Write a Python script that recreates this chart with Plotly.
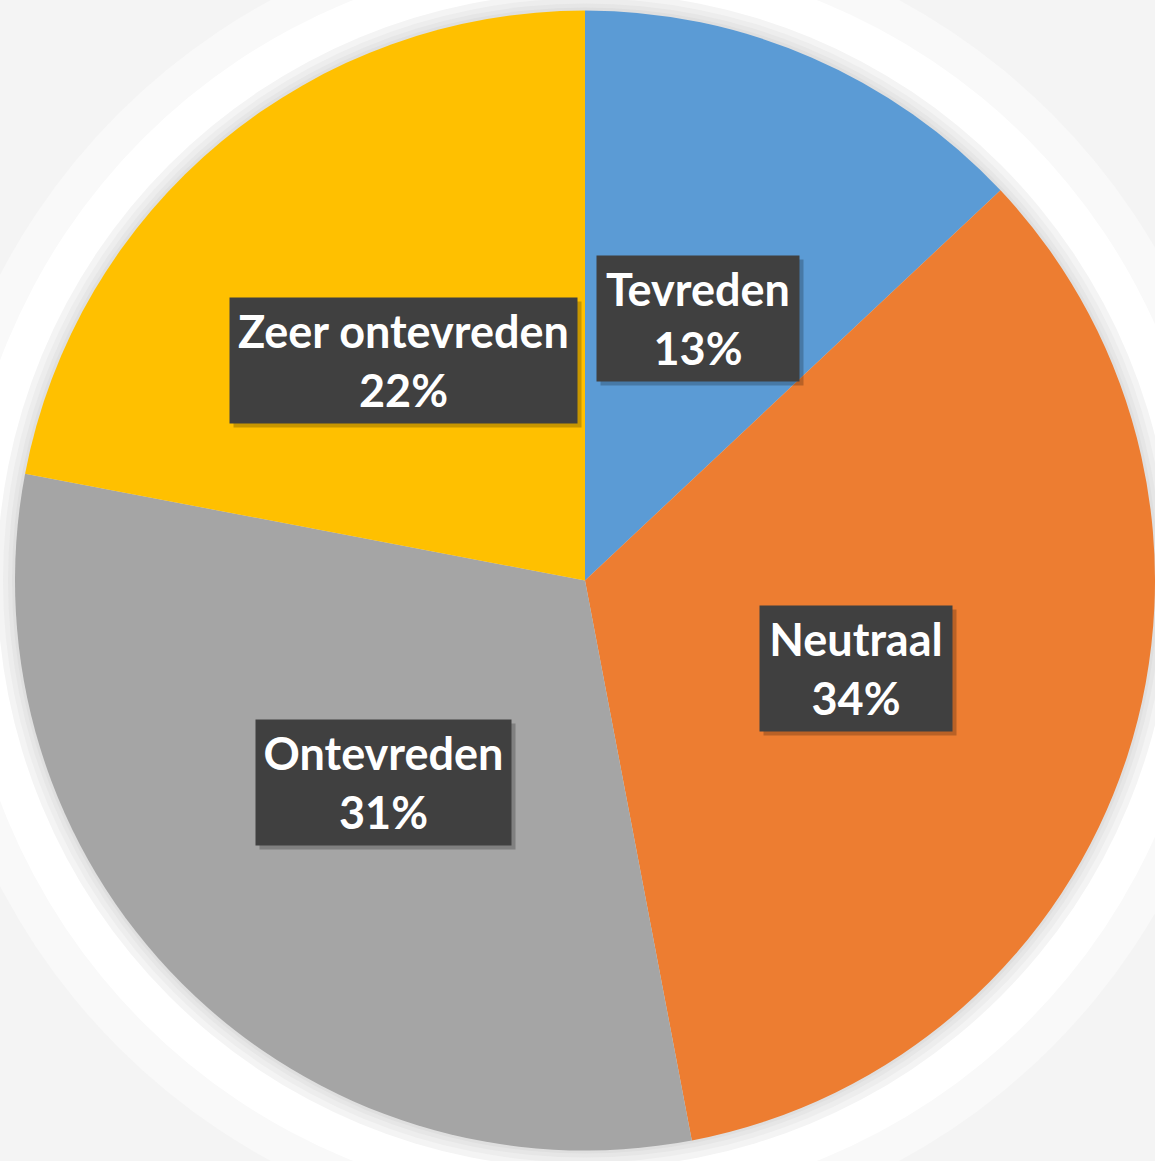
import numpy as np
import plotly.graph_objects as go

# data
labels = ["Tevreden", "Neutraal", "Ontevreden", "Zeer ontevreden"]
values = [13, 34, 31, 22]
colors = ["#5B9BD5", "#ED7D31", "#A5A5A5", "#FFC000"]

# label box sizes (px, text area without padding)
box_w = {"Tevreden": 192, "Neutraal": 182, "Ontevreden": 245, "Zeer ontevreden": 337}
box_h = 115

W, H = 1155, 1161
dom_x = [15 / W, 1.0]
dom_y = [0.0, 1.0]

# pie geometry in pixels (plotly fits the circle inside the domain)
dw = (dom_x[1] - dom_x[0]) * W
dh = (dom_y[1] - dom_y[0]) * H
r = min(dw, dh) / 2
cx = dom_x[0] * W + dw / 2
cy = H - (dom_y[0] * H + dh / 2)

fig = go.Figure()
fig.add_trace(go.Pie(
    labels=labels, values=values, sort=False, direction="clockwise", rotation=0,
    marker=dict(colors=colors, line=dict(width=0)),
    textinfo="none", hoverinfo="label+percent", showlegend=False,
    domain=dict(x=dom_x, y=dom_y),
))

# labels in dark boxes, halfway out along the mid-angle of each slice
total = sum(values)
cum = np.cumsum([0] + values)
annotations = []
for i, lab in enumerate(labels):
    mid = (cum[i] + values[i] / 2) / total * 2 * np.pi
    px = cx + 0.5 * r * np.sin(mid)
    py = cy - 0.5 * r * np.cos(mid)
    pct = round(values[i] / total * 100)
    # drop shadow box
    annotations.append(dict(
        x=(px + 4) / W, y=1 - (py + 4) / H, xref="paper", yref="paper",
        xanchor="center", yanchor="middle", width=box_w[lab], height=box_h,
        text=" ", showarrow=False, font=dict(family="Lato", size=45),
        bgcolor="rgba(0,0,0,0.22)", borderpad=5,
    ))
    annotations.append(dict(
        x=px / W, y=1 - py / H, xref="paper", yref="paper",
        xanchor="center", yanchor="middle", width=box_w[lab], height=box_h,
        text=f"<b>{lab}<br>{pct}%</b>", showarrow=False,
        font=dict(family="Lato", size=45, color="white"),
        bgcolor="#404040", borderpad=5,
    ))

# soft halo / shadow around the pie
shapes = []
for dr, col in [(90, "#f9f9f9"), (55, "#ffffff"), (18, "#f4f4f4"), (12, "#ededed"),
                (7, "#e6e6e6"), (3, "#dfdfdf")]:
    shapes.append(dict(
        type="circle", xref="paper", yref="paper", layer="below", line=dict(width=0),
        fillcolor=col,
        x0=(cx - r - dr) / W, x1=(cx + r + dr) / W,
        y0=1 - (cy + r + dr) / H, y1=1 - (cy - r - dr) / H,
    ))

fig.update_layout(
    width=W, height=H, margin=dict(l=0, r=0, t=0, b=0),
    paper_bgcolor="#f4f4f4", plot_bgcolor="#f4f4f4",
    annotations=annotations, shapes=shapes,
)
fig.write_html("out.html", config={"displayModeBar": False},
               post_script="document.body.style.margin='0px';document.body.style.overflow='hidden';")
